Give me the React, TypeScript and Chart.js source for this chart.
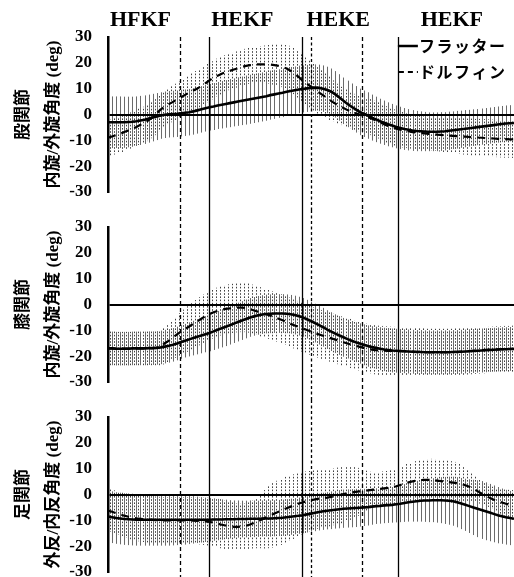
import React, { useEffect, useRef } from 'react';
import { Chart, registerables } from 'chart.js';

Chart.register(...registerables);

// % of stroke cycle (category positions)
const CYCLE: number[] = Array.from({ length: 101 }, (_, i) => i);

const SERIES_NAMES = ['フラッター', 'ドルフィン'];
const JOINT_NAMES = ['股関節', '膝関節', '足関節'];
const AXIS_NAMES = ['内旋/外旋角度 (deg)', '内旋/外旋角度 (deg)', '外反/内反角度 (deg)'];

const PHASE_LABELS = ['HFKF', 'HEKF', 'HEKE', 'HEKF'];
const PHASE_LABEL_AT = [8.0, 33.1, 56.7, 84.7];
const PHASE_LINES_SOLID = [24.9, 47.8, 71.4];
const PHASE_LINES_DASHED = [17.7, 50.0, 62.6];

const Y_MIN = -30;
const Y_MAX = 30;
const Y_STEP = 10;

// ---------- Hip (股関節) ----------
const HIP_FLUTTER_MEAN = [
  -3.0, -3.0, -3.0, -3.0, -3.0, -2.9, -2.8, -2.6, -2.3, -2.0,
  -1.6, -1.2, -0.8, -0.4, -0.1, 0.1, 0.2, 0.3, 0.5, 0.7,
  0.9, 1.2, 1.6, 2.0, 2.4, 2.8, 3.1, 3.5, 3.8, 4.1,
  4.4, 4.7, 5.0, 5.3, 5.6, 5.9, 6.2, 6.5, 6.8, 7.1,
  7.5, 7.8, 8.1, 8.4, 8.8, 9.1, 9.4, 9.7, 9.9, 10.1,
  10.3, 10.4, 10.3, 10.0, 9.5, 8.8, 7.8, 6.6, 5.3, 4.1,
  3.0, 2.0, 1.0, 0.3, -0.4, -1.2, -1.9, -2.6, -3.2, -3.8,
  -4.3, -4.8, -5.2, -5.6, -5.9, -6.2, -6.4, -6.5, -6.6, -6.7,
  -6.7, -6.7, -6.6, -6.5, -6.3, -6.1, -5.9, -5.7, -5.5, -5.3,
  -5.1, -4.9, -4.7, -4.5, -4.3, -4.1, -3.9, -3.7, -3.5, -3.4, -3.3,
];
const HIP_FLUTTER_SD = [
  10.0, 10.0, 10.0, 10.0, 9.9, 9.8, 9.7, 9.6, 9.5, 9.4,
  9.3, 9.2, 9.1, 9.0, 9.0, 9.0, 9.0, 9.0, 9.0, 9.0,
  9.0, 9.0, 9.0, 9.0, 9.0, 9.0, 9.1, 9.1, 9.2, 9.2,
  9.3, 9.3, 9.4, 9.4, 9.5, 9.5, 9.5, 9.5, 9.5, 9.5,
  9.5, 9.5, 9.4, 9.4, 9.3, 9.3, 9.2, 9.2, 9.1, 9.1,
  9.0, 9.0, 9.0, 9.0, 9.0, 9.0, 9.0, 9.0, 9.0, 9.0,
  9.0, 9.0, 9.0, 9.0, 9.0, 8.9, 8.8, 8.7, 8.6, 8.5,
  8.4, 8.3, 8.2, 8.1, 8.0, 7.9, 7.8, 7.7, 7.6, 7.5,
  7.5, 7.5, 7.5, 7.4, 7.4, 7.3, 7.3, 7.2, 7.2, 7.1,
  7.1, 7.0, 7.0, 7.0, 7.0, 7.0, 7.0, 7.0, 7.0, 7.0, 7.0,
];
const HIP_DOLPHIN_MEAN = [
  -9.0, -8.5, -8.0, -7.5, -6.8, -6.2, -5.5, -4.8, -4.0, -3.3,
  -2.2, -1.0, 0.5, 2.0, 3.0, 4.0, 4.9, 5.8, 6.7, 7.6,
  8.5, 9.3, 10.1, 11.0, 12.1, 13.2, 14.3, 15.0, 15.8, 16.4,
  16.9, 17.4, 17.9, 18.4, 18.8, 19.1, 19.3, 19.4, 19.4, 19.4,
  19.3, 19.1, 18.8, 18.4, 17.8, 16.9, 15.8, 14.5, 13.0, 11.9,
  10.8, 9.6, 8.5, 7.4, 6.3, 5.2, 4.2, 3.3, 2.5, 1.7,
  1.0, 0.5, 0.0, -0.5, -1.0, -1.6, -2.3, -3.0, -3.8, -4.4,
  -5.0, -5.5, -5.9, -6.2, -6.5, -6.8, -7.0, -7.2, -7.3, -7.5,
  -7.6, -7.8, -7.9, -8.1, -8.2, -8.3, -8.4, -8.5, -8.6, -8.7,
  -8.8, -8.9, -9.0, -9.1, -9.2, -9.3, -9.4, -9.5, -9.5, -9.6, -9.6,
];
const HIP_DOLPHIN_SD = [
  7.0, 7.0, 7.0, 7.0, 7.0, 7.0, 7.0, 7.0, 7.0, 7.0,
  7.0, 7.0, 7.0, 7.0, 7.0, 7.0, 7.0, 7.1, 7.2, 7.3,
  7.4, 7.5, 7.5, 7.5, 7.5, 7.4, 7.3, 7.2, 7.1, 7.0,
  7.0, 7.0, 7.0, 7.0, 7.0, 7.0, 7.0, 7.1, 7.3, 7.5,
  7.7, 7.9, 8.2, 8.5, 8.8, 9.0, 9.2, 9.4, 9.5, 9.5,
  9.4, 9.2, 9.0, 8.7, 8.4, 8.0, 7.7, 7.4, 7.2, 7.0,
  7.0, 7.0, 7.0, 7.0, 7.0, 7.0, 7.0, 7.0, 7.0, 7.0,
  7.0, 7.0, 6.9, 6.8, 6.7, 6.6, 6.5, 6.5, 6.5, 6.5,
  6.5, 6.5, 6.6, 6.6, 6.7, 6.8, 6.9, 7.0, 7.0, 7.1,
  7.1, 7.2, 7.2, 7.2, 7.2, 7.2, 7.2, 7.2, 7.2, 7.2, 7.2,
];

// ---------- Knee (膝関節) ----------
const KNEE_FLUTTER_MEAN = [
  -17.0, -17.0, -17.1, -17.1, -17.1, -17.1, -17.0, -17.0, -17.0, -17.0,
  -16.9, -16.9, -16.8, -16.6, -16.3, -16.0, -15.6, -15.1, -14.5, -14.0,
  -13.5, -13.0, -12.5, -12.0, -11.5, -11.0, -10.4, -9.8, -9.2, -8.6,
  -8.0, -7.4, -6.8, -6.2, -5.6, -5.0, -4.6, -4.2, -3.9, -3.7,
  -3.6, -3.5, -3.5, -3.5, -3.6, -3.8, -4.1, -4.5, -5.0, -5.7,
  -6.4, -7.2, -8.0, -8.8, -9.7, -10.5, -11.3, -12.0, -12.7, -13.4,
  -14.0, -14.6, -15.1, -15.6, -16.1, -16.5, -16.8, -17.1, -17.4, -17.6,
  -17.8, -17.9, -18.0, -18.1, -18.2, -18.3, -18.4, -18.4, -18.5, -18.5,
  -18.5, -18.5, -18.5, -18.5, -18.5, -18.4, -18.4, -18.3, -18.2, -18.1,
  -18.0, -17.9, -17.8, -17.7, -17.6, -17.5, -17.4, -17.3, -17.3, -17.2, -17.2,
];
const KNEE_FLUTTER_SD = [
  6.5, 6.5, 6.5, 6.5, 6.5, 6.5, 6.5, 6.5, 6.5, 6.5,
  6.5, 6.5, 6.5, 6.5, 6.5, 6.5, 6.5, 6.5, 6.5, 6.5,
  6.6, 6.7, 6.8, 6.9, 7.0, 7.1, 7.2, 7.3, 7.4, 7.5,
  7.5, 7.5, 7.5, 7.5, 7.5, 7.5, 7.5, 7.5, 7.5, 7.5,
  7.5, 7.5, 7.5, 7.5, 7.5, 7.5, 7.5, 7.5, 7.5, 7.5,
  7.5, 7.5, 7.5, 7.5, 7.5, 7.5, 7.5, 7.5, 7.5, 7.5,
  7.6, 7.7, 7.8, 7.9, 8.0, 8.1, 8.2, 8.3, 8.4, 8.5,
  8.5, 8.5, 8.5, 8.5, 8.5, 8.5, 8.5, 8.5, 8.5, 8.5,
  8.5, 8.5, 8.5, 8.5, 8.5, 8.5, 8.5, 8.5, 8.5, 8.5,
  8.5, 8.5, 8.5, 8.5, 8.5, 8.5, 8.5, 8.5, 8.5, 8.5, 8.5,
];
const KNEE_DOLPHIN_MEAN = [
  -17.0, -17.0, -17.1, -17.1, -17.1, -17.1, -17.0, -17.0, -17.0, -17.0,
  -16.9, -16.9, -16.7, -16.2, -15.0, -14.0, -12.8, -11.6, -10.5, -9.5,
  -8.5, -7.5, -6.5, -5.5, -4.5, -3.7, -3.0, -2.5, -2.0, -1.7,
  -1.5, -1.3, -1.2, -1.2, -1.4, -1.8, -2.3, -2.8, -3.3, -3.8,
  -4.3, -4.9, -5.5, -6.1, -6.8, -7.5, -8.1, -8.7, -9.3, -9.9,
  -10.5, -11.1, -11.6, -12.1, -12.6, -13.1, -13.6, -14.1, -14.6, -15.1,
  -15.6, -16.0, -16.4, -16.8, -17.2, -17.5, -17.7, -17.8, -17.9, -18.0,
  -18.0, -18.0, -18.1, -18.1, -18.2, -18.2, -18.3, -18.3, -18.4, -18.4,
  -18.4, -18.4, -18.4, -18.4, -18.4, -18.3, -18.3, -18.2, -18.1, -18.0,
  -17.9, -17.8, -17.7, -17.6, -17.5, -17.4, -17.4, -17.3, -17.3, -17.2, -17.2,
];
const KNEE_DOLPHIN_SD = [
  6.5, 6.5, 6.5, 6.5, 6.5, 6.5, 6.5, 6.5, 6.5, 6.5,
  6.6, 6.7, 6.8, 7.0, 7.3, 7.6, 7.9, 8.2, 8.5, 8.8,
  9.0, 9.2, 9.3, 9.4, 9.5, 9.5, 9.5, 9.5, 9.5, 9.5,
  9.5, 9.5, 9.5, 9.5, 9.5, 9.5, 9.5, 9.5, 9.5, 9.5,
  9.5, 9.5, 9.5, 9.5, 9.5, 9.5, 9.5, 9.5, 9.5, 9.5,
  9.5, 9.5, 9.5, 9.5, 9.5, 9.5, 9.5, 9.5, 9.5, 9.5,
  9.5, 9.5, 9.5, 9.5, 9.5, 9.5, 9.5, 9.5, 9.5, 9.5,
  9.4, 9.4, 9.3, 9.3, 9.2, 9.2, 9.1, 9.1, 9.0, 9.0,
  9.0, 9.0, 9.0, 9.0, 9.0, 9.0, 9.0, 9.0, 9.0, 9.0,
  9.0, 9.0, 9.0, 9.0, 9.0, 9.0, 9.0, 9.0, 9.0, 9.0, 9.0,
];

// ---------- Ankle (足関節) ----------
const ANKLE_FLUTTER_MEAN = [
  -8.5, -8.8, -9.1, -9.3, -9.5, -9.6, -9.7, -9.8, -9.8, -9.8,
  -9.8, -9.8, -9.8, -9.8, -9.8, -9.8, -9.8, -9.8, -9.8, -9.8,
  -9.8, -9.8, -9.8, -9.8, -9.8, -9.8, -9.7, -9.7, -9.7, -9.6,
  -9.6, -9.6, -9.5, -9.5, -9.5, -9.4, -9.4, -9.4, -9.3, -9.3,
  -9.3, -9.2, -9.1, -9.0, -8.8, -8.6, -8.4, -8.2, -8.0, -7.7,
  -7.4, -7.1, -6.8, -6.5, -6.3, -6.1, -5.9, -5.7, -5.5, -5.4,
  -5.3, -5.2, -5.1, -5.0, -4.9, -4.7, -4.5, -4.4, -4.2, -4.1,
  -4.0, -3.8, -3.6, -3.3, -3.0, -2.8, -2.6, -2.4, -2.3, -2.3,
  -2.2, -2.2, -2.2, -2.3, -2.4, -2.6, -3.0, -3.5, -4.0, -4.5,
  -5.0, -5.5, -6.0, -6.5, -7.0, -7.5, -8.0, -8.4, -8.8, -9.1, -9.4,
];
const ANKLE_FLUTTER_SD = [
  10.0, 10.0, 10.0, 10.0, 10.0, 10.0, 10.0, 10.0, 10.0, 10.0,
  10.0, 10.0, 10.0, 10.0, 10.0, 10.0, 9.9, 9.8, 9.7, 9.6,
  9.4, 9.2, 9.0, 8.8, 8.6, 8.4, 8.2, 8.0, 7.8, 7.6,
  7.4, 7.3, 7.2, 7.1, 7.1, 7.1, 7.1, 7.0, 7.0, 7.0,
  7.0, 7.0, 7.0, 7.0, 7.0, 7.0, 7.0, 7.0, 7.0, 7.0,
  7.0, 7.1, 7.1, 7.2, 7.2, 7.3, 7.3, 7.4, 7.4, 7.4,
  7.4, 7.4, 7.3, 7.2, 7.1, 7.0, 6.9, 6.9, 6.9, 6.9,
  6.9, 7.0, 7.1, 7.3, 7.5, 7.7, 7.9, 8.1, 8.3, 8.4,
  8.5, 8.7, 8.9, 9.1, 9.3, 9.5, 9.7, 9.9, 10.1, 10.4,
  10.7, 11.0, 11.2, 11.2, 11.1, 11.0, 10.9, 10.7, 10.6, 10.5, 10.4,
];
const ANKLE_DOLPHIN_MEAN = [
  -6.2, -6.7, -7.2, -7.7, -8.2, -8.6, -8.9, -9.2, -9.4, -9.6,
  -9.7, -9.8, -9.9, -10.0, -10.0, -10.0, -10.0, -10.0, -10.0, -10.0,
  -10.0, -10.1, -10.2, -10.3, -10.4, -10.6, -10.9, -11.3, -11.7, -12.0,
  -12.3, -12.5, -12.5, -12.4, -12.1, -11.6, -11.0, -10.3, -9.6, -8.8,
  -8.1, -7.4, -6.7, -6.0, -5.3, -4.7, -4.1, -3.5, -3.0, -2.6,
  -2.2, -1.9, -1.6, -1.4, -1.2, -0.9, -0.6, -0.2, 0.2, 0.5,
  0.8, 1.0, 1.2, 1.4, 1.6, 1.8, 2.0, 2.2, 2.4, 2.6,
  2.8, 3.2, 3.7, 4.2, 4.7, 5.1, 5.4, 5.6, 5.7, 5.7,
  5.6, 5.4, 5.2, 5.0, 4.8, 4.6, 4.4, 4.1, 3.6, 3.0,
  2.2, 1.3, 0.4, -0.5, -1.3, -2.0, -2.6, -3.1, -3.6, -4.0, -4.3,
];
const ANKLE_DOLPHIN_SD = [
  8.2, 8.3, 8.4, 8.5, 8.6, 8.7, 8.8, 8.9, 9.0, 9.0,
  9.0, 9.0, 9.0, 9.0, 9.0, 9.0, 9.0, 9.0, 9.0, 9.0,
  9.0, 9.0, 9.1, 9.2, 9.3, 9.4, 9.5, 9.5, 9.4, 9.3,
  9.2, 9.0, 8.9, 8.9, 9.0, 9.3, 9.8, 10.5, 11.3, 12.0,
  12.5, 12.7, 12.8, 12.8, 12.7, 12.5, 12.3, 12.1, 11.9, 11.7,
  11.5, 11.4, 11.3, 11.2, 11.1, 11.0, 11.0, 10.9, 10.7, 10.3,
  9.8, 9.3, 8.6, 7.8, 7.2, 6.8, 6.7, 6.7, 6.7, 6.8,
  7.0, 7.2, 7.4, 7.6, 7.7, 7.8, 7.9, 8.0, 8.0, 8.1,
  8.1, 8.1, 8.1, 8.1, 8.1, 8.0, 7.6, 7.0, 6.3, 5.7,
  5.2, 4.8, 4.5, 4.3, 4.3, 4.5, 4.8, 5.1, 5.4, 5.7, 5.9,
];

const PANEL_DATA = [
  { fm: HIP_FLUTTER_MEAN, fs: HIP_FLUTTER_SD, dm: HIP_DOLPHIN_MEAN, ds: HIP_DOLPHIN_SD },
  { fm: KNEE_FLUTTER_MEAN, fs: KNEE_FLUTTER_SD, dm: KNEE_DOLPHIN_MEAN, ds: KNEE_DOLPHIN_SD },
  { fm: ANKLE_FLUTTER_MEAN, fs: ANKLE_FLUTTER_SD, dm: ANKLE_DOLPHIN_MEAN, ds: ANKLE_DOLPHIN_SD },
];

// canvas strips: chart areas at 37..192, 227..382, 417..572
const PANEL_LAYOUT = [
  { top: 0, height: 210, padTop: 37, padBottom: 18 },
  { top: 210, height: 190, padTop: 17, padBottom: 18 },
  { top: 400, height: 190, padTop: 17, padBottom: 18 },
];

const SERIF = "'Liberation Serif', 'Noto Sans CJK JP'";
const CJK = "'Noto Sans CJK JP', 'Noto Sans'";

function makePlugin(idx: number) {
  const d = PANEL_DATA[idx];
  return {
    id: 'panelDeco' + idx,
    beforeDatasetsDraw(chart: any) {
      const { ctx, chartArea: a, scales } = chart;
      const x = scales.x;
      const y = scales.y;
      ctx.save();
      ctx.beginPath();
      ctx.rect(a.left, a.top, a.right - a.left, a.bottom - a.top);
      ctx.clip();
      const step = x.getPixelForValue(CYCLE[1]) - x.getPixelForValue(CYCLE[0]);
      // flutter SD: solid thin lines
      ctx.lineWidth = 1;
      ctx.strokeStyle = 'rgba(0,0,0,0.58)';
      ctx.setLineDash([]);
      ctx.beginPath();
      CYCLE.forEach((c, i) => {
        const px = Math.round(x.getPixelForValue(c)) + 0.5;
        ctx.moveTo(px, y.getPixelForValue(d.fm[i] + d.fs[i]));
        ctx.lineTo(px, y.getPixelForValue(d.fm[i] - d.fs[i]));
      });
      ctx.stroke();
      // dolphin SD: dotted lines
      const period = 3.2;
      ctx.strokeStyle = 'rgba(0,0,0,0.75)';
      ctx.setLineDash([1.6, 1.6]);
      CYCLE.forEach((c, i) => {
        const px = Math.round(x.getPixelForValue(c) + step / 2) + 0.5;
        const yt = y.getPixelForValue(d.dm[i] + d.ds[i]);
        const yb = y.getPixelForValue(d.dm[i] - d.ds[i]);
        ctx.lineDashOffset = yt % period;
        ctx.beginPath();
        ctx.moveTo(px, yt);
        ctx.lineTo(px, yb);
        ctx.stroke();
      });
      ctx.restore();
    },
    afterDraw(chart: any) {
      const { ctx, chartArea: a, scales } = chart;
      const x = scales.x;
      const y0 = idx === 0 ? a.top : 0;
      const y1 = chart.height;
      ctx.save();
      ctx.strokeStyle = '#000';
      ctx.lineWidth = 1.3;
      ctx.setLineDash([]);
      PHASE_LINES_SOLID.forEach((v) => {
        const px = Math.round(x.getPixelForValue(v)) + 0.5;
        ctx.beginPath();
        ctx.moveTo(px, y0);
        ctx.lineTo(px, y1);
        ctx.stroke();
      });
      PHASE_LINES_DASHED.forEach((v, k) => {
        const px = Math.round(x.getPixelForValue(v)) + 0.5;
        ctx.setLineDash(k === 1 ? [3, 2.5] : [4, 3]);
        ctx.beginPath();
        ctx.moveTo(px, y0);
        ctx.lineTo(px, y1);
        ctx.stroke();
      });
      ctx.setLineDash([]);
      if (idx === 0) {
        // phase headers
        ctx.fillStyle = '#000';
        ctx.font = `bold 22px 'Liberation Serif'`;
        ctx.textAlign = 'center';
        ctx.textBaseline = 'middle';
        PHASE_LABELS.forEach((t, k) => {
          ctx.fillText(t, x.getPixelForValue(PHASE_LABEL_AT[k]), 20);
        });
        // legend
        const lx = x.getPixelForValue(PHASE_LINES_SOLID[2]);
        const rows = [46, 72];
        ctx.lineWidth = 2.5;
        ctx.beginPath();
        ctx.moveTo(lx, rows[0]);
        ctx.lineTo(lx + 20, rows[0]);
        ctx.stroke();
        ctx.setLineDash([5, 4]);
        ctx.lineWidth = 2;
        ctx.beginPath();
        ctx.moveTo(lx + 1, rows[1]);
        ctx.lineTo(lx + 20, rows[1]);
        ctx.stroke();
        ctx.setLineDash([]);
        ctx.font = `bold 16px ${CJK}`;
        ctx.textAlign = 'left';
        try { (ctx as any).letterSpacing = '1.5px'; } catch (e) {}
        SERIES_NAMES.forEach((t, k) => {
          ctx.fillText(t, lx + 21, rows[k]);
        });
      }
      ctx.restore();
    },
  };
}

function Panel({ idx }: { idx: number }) {
  const ref = useRef<HTMLCanvasElement>(null);
  const lay = PANEL_LAYOUT[idx];
  useEffect(() => {
    const d = PANEL_DATA[idx];
    const chart = new Chart(ref.current as HTMLCanvasElement, {
      type: 'line',
      data: {
        datasets: [
          {
            label: SERIES_NAMES[0],
            data: CYCLE.map((c, i) => ({ x: c, y: d.fm[i] })),
            borderColor: '#000',
            borderWidth: 2.6,
            pointRadius: 0,
            tension: 0,
          },
          {
            label: SERIES_NAMES[1],
            data: CYCLE.map((c, i) => ({ x: c, y: d.dm[i] })),
            borderColor: '#000',
            borderWidth: 2.2,
            borderDash: [8, 6],
            pointRadius: 0,
            tension: 0,
          },
        ],
      },
      options: {
        animation: false,
        responsive: false,
        devicePixelRatio: 1,
        layout: { padding: { top: lay.padTop, bottom: lay.padBottom, left: 0, right: 0 } },
        plugins: { legend: { display: false }, tooltip: { enabled: false } },
        events: [],
        scales: {
          x: { type: 'linear', min: 0, max: 100, display: false },
          y: {
            type: 'linear',
            min: Y_MIN,
            max: Y_MAX,
            z: 1,
            afterFit: (s: any) => { s.width = 108; },
            ticks: {
              stepSize: Y_STEP,
              color: '#000',
              padding: 3,
              font: { family: "'Liberation Serif'", size: 17, weight: 'bold' },
            },
            grid: {
              drawTicks: true,
              tickLength: 13,
              tickColor: 'rgba(0,0,0,0)',
              lineWidth: 2,
              color: (c: any) => (c.tick && c.tick.value === 0 ? '#000' : 'rgba(0,0,0,0)'),
            },
            border: { display: true, color: '#000', width: 2.5 },
            title: {
              display: true,
              text: [JOINT_NAMES[idx], AXIS_NAMES[idx]],
              color: '#000',
              font: { family: SERIF, size: 17, weight: 'bold', lineHeight: 30 / 17 },
              padding: { top: 8.5, bottom: 0 },
            },
          },
        },
      } as any,
      plugins: [makePlugin(idx)],
    });
    return () => chart.destroy();
  }, [idx]);
  return (
    <div style={{ position: 'absolute', left: 0, top: lay.top, width: 514, height: lay.height }}>
      <canvas ref={ref} width={514} height={lay.height} style={{ display: 'block', width: 514, height: lay.height }} />
    </div>
  );
}

export default function App() {
  return (
    <div
      style={{
        position: 'fixed',
        left: 0,
        top: 0,
        width: 514,
        height: 577,
        overflow: 'hidden',
        background: '#fff',
      }}
    >
      <Panel idx={0} />
      <Panel idx={1} />
      <Panel idx={2} />
    </div>
  );
}
